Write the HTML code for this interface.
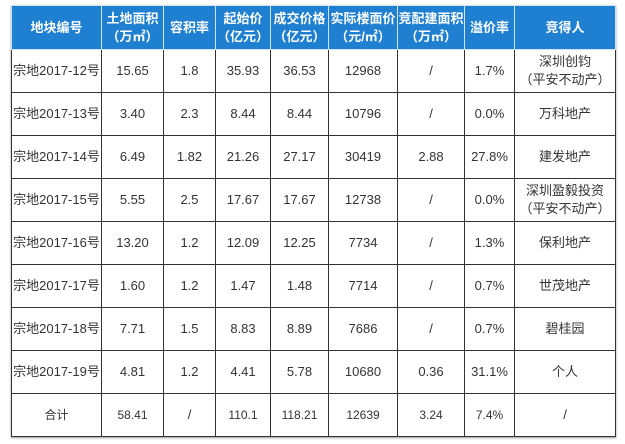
<!DOCTYPE html>
<html><head><meta charset="utf-8"><style>
body{margin:0;width:625px;height:444px;background:#fff;overflow:hidden}
table{position:absolute;left:11px;top:5px;border-collapse:collapse;table-layout:fixed;font-family:"Liberation Sans","Noto Sans CJK SC",sans-serif;font-size:13px;color:#333;box-shadow:0 1px 2px #999}
td{border:1px solid #333;text-align:center;padding:0;height:42px;line-height:18px}
tr.h td{background:#1f7fd1;color:#fff;font-weight:bold;height:43px;border-color:#cfe3f5;font-size:13px}
</style></head><body>
<table>
<colgroup><col style="width:90px"><col style="width:62px"><col style="width:52px"><col style="width:55px"><col style="width:58px"><col style="width:69px"><col style="width:67px"><col style="width:50px"><col style="width:101px"></colgroup>
<tr class="h"><td>地块编号</td><td>土地面积<br>（万㎡）</td><td>容积率</td><td>起始价<br>（亿元）</td><td>成交价格<br>（亿元）</td><td>实际楼面价<br>（元/㎡）</td><td>竞配建面积<br>（万㎡）</td><td>溢价率</td><td>竞得人</td></tr>
<tr><td>宗地2017-12号</td><td>15.65</td><td>1.8</td><td>35.93</td><td>36.53</td><td>12968</td><td>/</td><td>1.7%</td><td>深圳创钧<br>（平安不动产）</td></tr>
<tr><td>宗地2017-13号</td><td>3.40</td><td>2.3</td><td>8.44</td><td>8.44</td><td>10796</td><td>/</td><td>0.0%</td><td>万科地产</td></tr>
<tr><td>宗地2017-14号</td><td>6.49</td><td>1.82</td><td>21.26</td><td>27.17</td><td>30419</td><td>2.88</td><td>27.8%</td><td>建发地产</td></tr>
<tr><td>宗地2017-15号</td><td>5.55</td><td>2.5</td><td>17.67</td><td>17.67</td><td>12738</td><td>/</td><td>0.0%</td><td>深圳盈毅投资<br>（平安不动产）</td></tr>
<tr><td>宗地2017-16号</td><td>13.20</td><td>1.2</td><td>12.09</td><td>12.25</td><td>7734</td><td>/</td><td>1.3%</td><td>保利地产</td></tr>
<tr><td>宗地2017-17号</td><td>1.60</td><td>1.2</td><td>1.47</td><td>1.48</td><td>7714</td><td>/</td><td>0.7%</td><td>世茂地产</td></tr>
<tr><td>宗地2017-18号</td><td>7.71</td><td>1.5</td><td>8.83</td><td>8.89</td><td>7686</td><td>/</td><td>0.7%</td><td>碧桂园</td></tr>
<tr><td>宗地2017-19号</td><td>4.81</td><td>1.2</td><td>4.41</td><td>5.78</td><td>10680</td><td>0.36</td><td>31.1%</td><td>个人</td></tr>
<tr><td style="font-size:12px">合计</td><td style="font-size:12px">58.41</td><td>/</td><td style="font-size:12px">110.1</td><td style="font-size:12px">118.21</td><td style="font-size:12px">12639</td><td style="font-size:12px">3.24</td><td style="font-size:12px">7.4%</td><td>/</td></tr>
</table>
</body></html>
